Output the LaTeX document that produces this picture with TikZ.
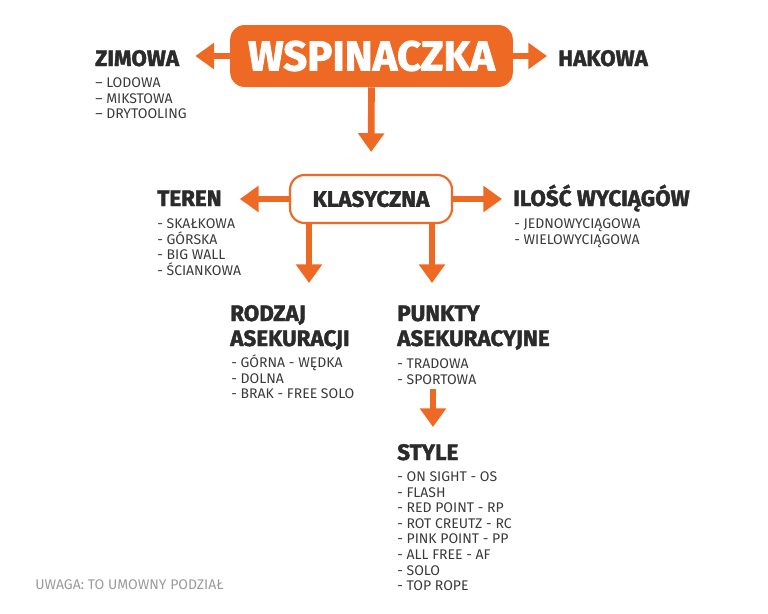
\documentclass[tikz,border=0pt]{standalone}
\usepackage{fontspec}
\setmainfont{Fira Sans}[BoldFeatures={FakeBold=1.8}]
\newcommand\headfont{\bfseries}
\usepackage{tikz}
\usetikzlibrary{calc,arrows.meta,positioning}
\definecolor{orng}{HTML}{EE6A24}
\definecolor{ink}{HTML}{2B2B2B}
\definecolor{body}{HTML}{3A3A3A}
\definecolor{note}{HTML}{9A9A9A}
\tikzset{
  arr/.style={draw=orng, line width=5pt, -{Triangle[length=14pt,width=19pt]}},
  mainbox/.style={fill=orng, rounded corners=11pt, minimum width=212pt, minimum height=46.5pt, text=white, font=\headfont\fontsize{31.5}{31.5}\selectfont},
  subbox/.style={draw=orng, fill=white, line width=1.6pt, rounded corners=11pt, minimum width=121.5pt, minimum height=36pt, text=ink, font=\headfont\fontsize{16.8}{16.8}\selectfont},
  head/.style={anchor=base west, inner sep=0pt, text=ink, align=left, font=\headfont\fontsize{16.8}{18.75}\selectfont},
  item/.style={anchor=base west, inner sep=0pt, text=body, font=\fontsize{10.5}{11}\selectfont},
}

\begin{document}
\begin{tikzpicture}[x=0.75pt,y=-0.75pt]
  \useasboundingbox (0,0) rectangle (768,614);

  \node[mainbox] (main) at (371.5,56) {WSPINACZKA};
  \node[subbox] (klas) at (371,199) {KLASYCZNA};

  \node[head] (zimowa) at (95,66) {ZIMOWA};
  \node[head] (hakowa) at (558,66) {HAKOWA};
  \node[head] (teren) at (157,206) {TEREN};
  \node[head] (ilosc) at (513,206) {ILOŚĆ WYCIĄGÓW};
  \node[head] (rodzaj) at (230,346) {RODZAJ\\ASEKURACJI};
  \node[head] (punkty) at (397,346) {PUNKTY\\ASEKURACYJNE};
  \node[head] (style) at (397,460) {STYLE};

  \foreach \t [count=\i from 0] in {LODOWA,MIKSTOWA,DRYTOOLING}
    \node[item] (zim-\i) at (95,87.5+15.5*\i) {-- \t};
  \foreach \t [count=\i from 0] in {SKAŁKOWA,GÓRSKA,BIG WALL,ŚCIANKOWA}
    \node[item] (ter-\i) at (157,228.5+15.5*\i) {- \t};
  \foreach \t [count=\i from 0] in {JEDNOWYCIĄGOWA,WIELOWYCIĄGOWA}
    \node[item] (ilo-\i) at (514,228.5+15.5*\i) {- \t};
  \foreach \t [count=\i from 0] in {GÓRNA - WĘDKA,DOLNA,BRAK - FREE SOLO}
    \node[item] (rod-\i) at (231,367.5+15.5*\i) {- \t};
  \foreach \t [count=\i from 0] in {TRADOWA,SPORTOWA}
    \node[item] (pun-\i) at (397,368.5+15.5*\i) {- \t};
  \foreach \t [count=\i from 0] in {ON SIGHT - OS,FLASH,RED POINT - RP,ROT CREUTZ - RC,PINK POINT - PP,ALL FREE - AF,SOLO,TOP ROPE}
    \node[item] (sty-\i) at (397,481.5+15.6*\i) {- \t};

  \node[item, text=note] (uwaga) at (35,589.5) {UWAGA: TO UMOWNY PODZIAŁ};

  % arrows out of the boxes
  \coordinate (rtip) at (309,283);
  \coordinate (ptip) at (432,283);
  \coordinate (stip) at (433,427);
  \draw[arr, shorten >=12pt] (main.west) -- (zimowa.east |- main.west);
  \draw[arr, shorten >=8.25pt] (main.east) -- (hakowa.west |- main.east);
  \draw[arr, shorten >=16.5pt] (main.south) -- (klas.north);
  \draw[arr, shorten >=13.5pt] (klas.west) -- (teren.east |- klas.west);
  \draw[arr, shorten >=8.25pt] (klas.east) -- (ilosc.west |- klas.east);
  \draw[arr] (klas.south -| rtip) -- (rtip);
  \draw[arr] (klas.south -| ptip) -- (ptip);
  \draw[arr] ($(pun-1.south -| stip)+(0,5)$) -- (stip);
\end{tikzpicture}
\end{document}
